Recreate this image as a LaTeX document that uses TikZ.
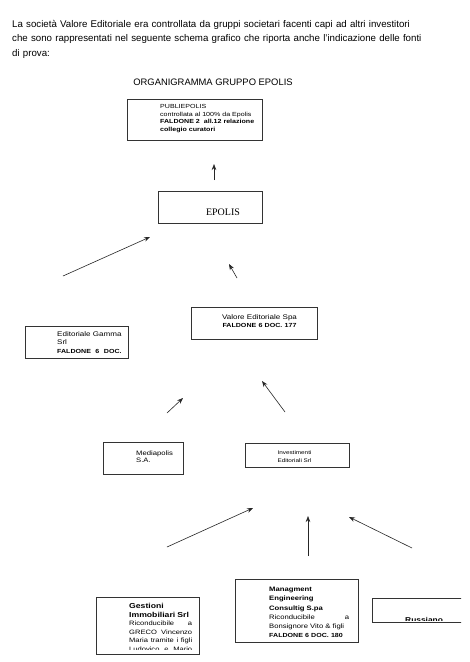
\documentclass[tikz,border=0pt]{standalone}
\usepackage{fontspec}
\setmainfont{Liberation Sans}
\newfontfamily\boxfont[FakeStretch=1.2]{Liberation Sans}
\newfontfamily\epolisfont{Liberation Serif}
\usetikzlibrary{arrows.meta, positioning, calc}

\newcommand{\fs}[2]{\fontsize{#1}{#2}\selectfont}

\begin{document}
\begin{tikzpicture}[x=1pt, y=-1pt,
    box/.style={draw=black!80, line width=0.9pt, inner sep=0pt, anchor=north west},
    txt/.style={inner sep=0pt, anchor=base west, align=left},
    link/.style={draw=black!85, line width=0.6pt, -{Stealth[length=6pt, width=4.5pt]}},
]
    \fill[white] (0,0) rectangle (470,662);
    \useasboundingbox (0,0) rectangle (470,662);

    % Intro and title
    \node[txt, text width=440pt, font=\fs{9.7}{14.7}] (intro) at (12,27)
        {La società Valore Editoriale era controllata da gruppi societari facenti capi ad altri investitori\\
         che sono rappresentati nel seguente schema grafico che riporta anche l'indicazione delle fonti\\
         di prova:};
    \node[inner sep=0pt, anchor=base, font=\fs{9.4}{11}] (title) at (213,85) {ORGANIGRAMMA GRUPPO EPOLIS};

    % Top: Publiepolis and Epolis
    \node[box, minimum width=135pt, minimum height=41pt] (pub) at (127,99) {};
    \node[txt, text width=100pt, font=\boxfont\fs{5.9}{7.5}] (pubtxt) at (160,108.5)
        {PUBLIEPOLIS\\ controllata al 100\% da Epolis\\ \textbf{FALDONE 2\ \ all.12 relazione}\\ \textbf{collegio curatori}};

    \node[box, minimum width=104pt, minimum height=32pt] (epolis) at (158,191) {};
    \node[inner sep=0pt, anchor=base, font=\epolisfont\fs{10}{12}] (epolistxt) at (223,215.5) {EPOLIS};

    % Row 2
    \node[box, minimum width=103pt, minimum height=32pt] (gamma) at (25,326) {};
    \node[txt, text width=70pt, font=\boxfont\fs{6.7}{8.2}] (gammatxt) at (57,336.7)
        {Editoriale Gamma\\ Srl\\ {\fs{5.9}{8.2}\bfseries FALDONE\ \ 6\ \ DOC.}};

    \node[box, minimum width=126pt, minimum height=32pt] (valore) at (191,307) {};
    \node[inner sep=0pt, anchor=base, align=center, text width=110pt, font=\boxfont\fs{6.7}{8}] (valoretxt) at (259.5,319)
        {Valore Editoriale Spa\\ {\fs{5.9}{8}\bfseries FALDONE 6 DOC. 177}};

    % Row 3
    \node[box, minimum width=80pt, minimum height=32pt] (media) at (103,442) {};
    \node[txt, text width=45pt, font=\boxfont\fs{6.4}{7.5}] (mediatxt) at (136,455) {Mediapolis\\ S.A.};

    \node[box, minimum width=104pt, minimum height=24pt] (invest) at (245,443) {};
    \node[inner sep=0pt, anchor=base, align=center, text width=80pt, font=\boxfont\fs{5.3}{8.5}] (investtxt) at (294.5,454)
        {Investimenti\\ Editoriali Srl};

    % Row 4
    \node[box, minimum width=103pt, minimum height=57pt] (gest) at (96,597) {};
    \begin{scope}
        \clip (96,597) rectangle (199,649.5);
        \node[txt, text width=63pt, font=\boxfont\fs{6.3}{8.5}] (gesttxt) at (129,608.5)
            {{\fs{7.2}{8.5}\bfseries Gestioni}\\ {\fs{7.2}{8.5}\bfseries Immobiliari Srl}\\ Riconducibile\hfill a\\ GRECO\hfill Vincenzo\\
             Maria\hfill tramite\hfill i\hfill figli\\ Ludovico\hfill e\hfill Mario};
    \end{scope}

    \node[box, minimum width=123pt, minimum height=63pt] (mgmt) at (235,579) {};
    \node[txt, text width=80pt, font=\boxfont\fs{6.4}{9.1}] (mgmttxt) at (269,591.8)
        {\textbf{Managment}\\ \textbf{Engineering}\\ \textbf{Consultig S.pa}\\ Riconducibile\hfill a\\
         Bonsignore Vito \& figli\\ {\fs{5.9}{9.1}\bfseries FALDONE 6 DOC. 180}};

    \begin{scope}
        \clip (360,590) rectangle (461,630);
        \node[box, minimum width=120pt, minimum height=24pt] (russ) at (372,598) {};
        \clip (360,590) rectangle (461,620);
        \node[txt, font=\boxfont\fs{7}{9}\bfseries] (russtxt) at (405,622) {Russiano};
    \end{scope}

    % Arrows
    \coordinate (upA) at (214,180);   \coordinate (upB) at (214,164);
    \coordinate (lfA) at (63,276);    \coordinate (lfB) at (150,237);
    \coordinate (smA) at (237,278);   \coordinate (smB) at (229,264);
    \coordinate (mdA) at (167,413);   \coordinate (mdB) at (183,398);
    \coordinate (ivA) at (285,412);   \coordinate (ivB) at (262,381);
    \coordinate (gsA) at (167,547);   \coordinate (gsB) at (253,508);
    \coordinate (mgA) at (308,556);   \coordinate (mgB) at (308,516);
    \coordinate (ruA) at (412,548);   \coordinate (ruB) at (349,517);

    \draw[link] (upA) -- (upB);
    \draw[link] (lfA) -- (lfB);
    \draw[link] (smA) -- (smB);
    \draw[link] (mdA) -- (mdB);
    \draw[link] (ivA) -- (ivB);
    \draw[link] (gsA) -- (gsB);
    \draw[link] (mgA) -- (mgB);
    \draw[link] (ruA) -- (ruB);
\end{tikzpicture}
\end{document}
